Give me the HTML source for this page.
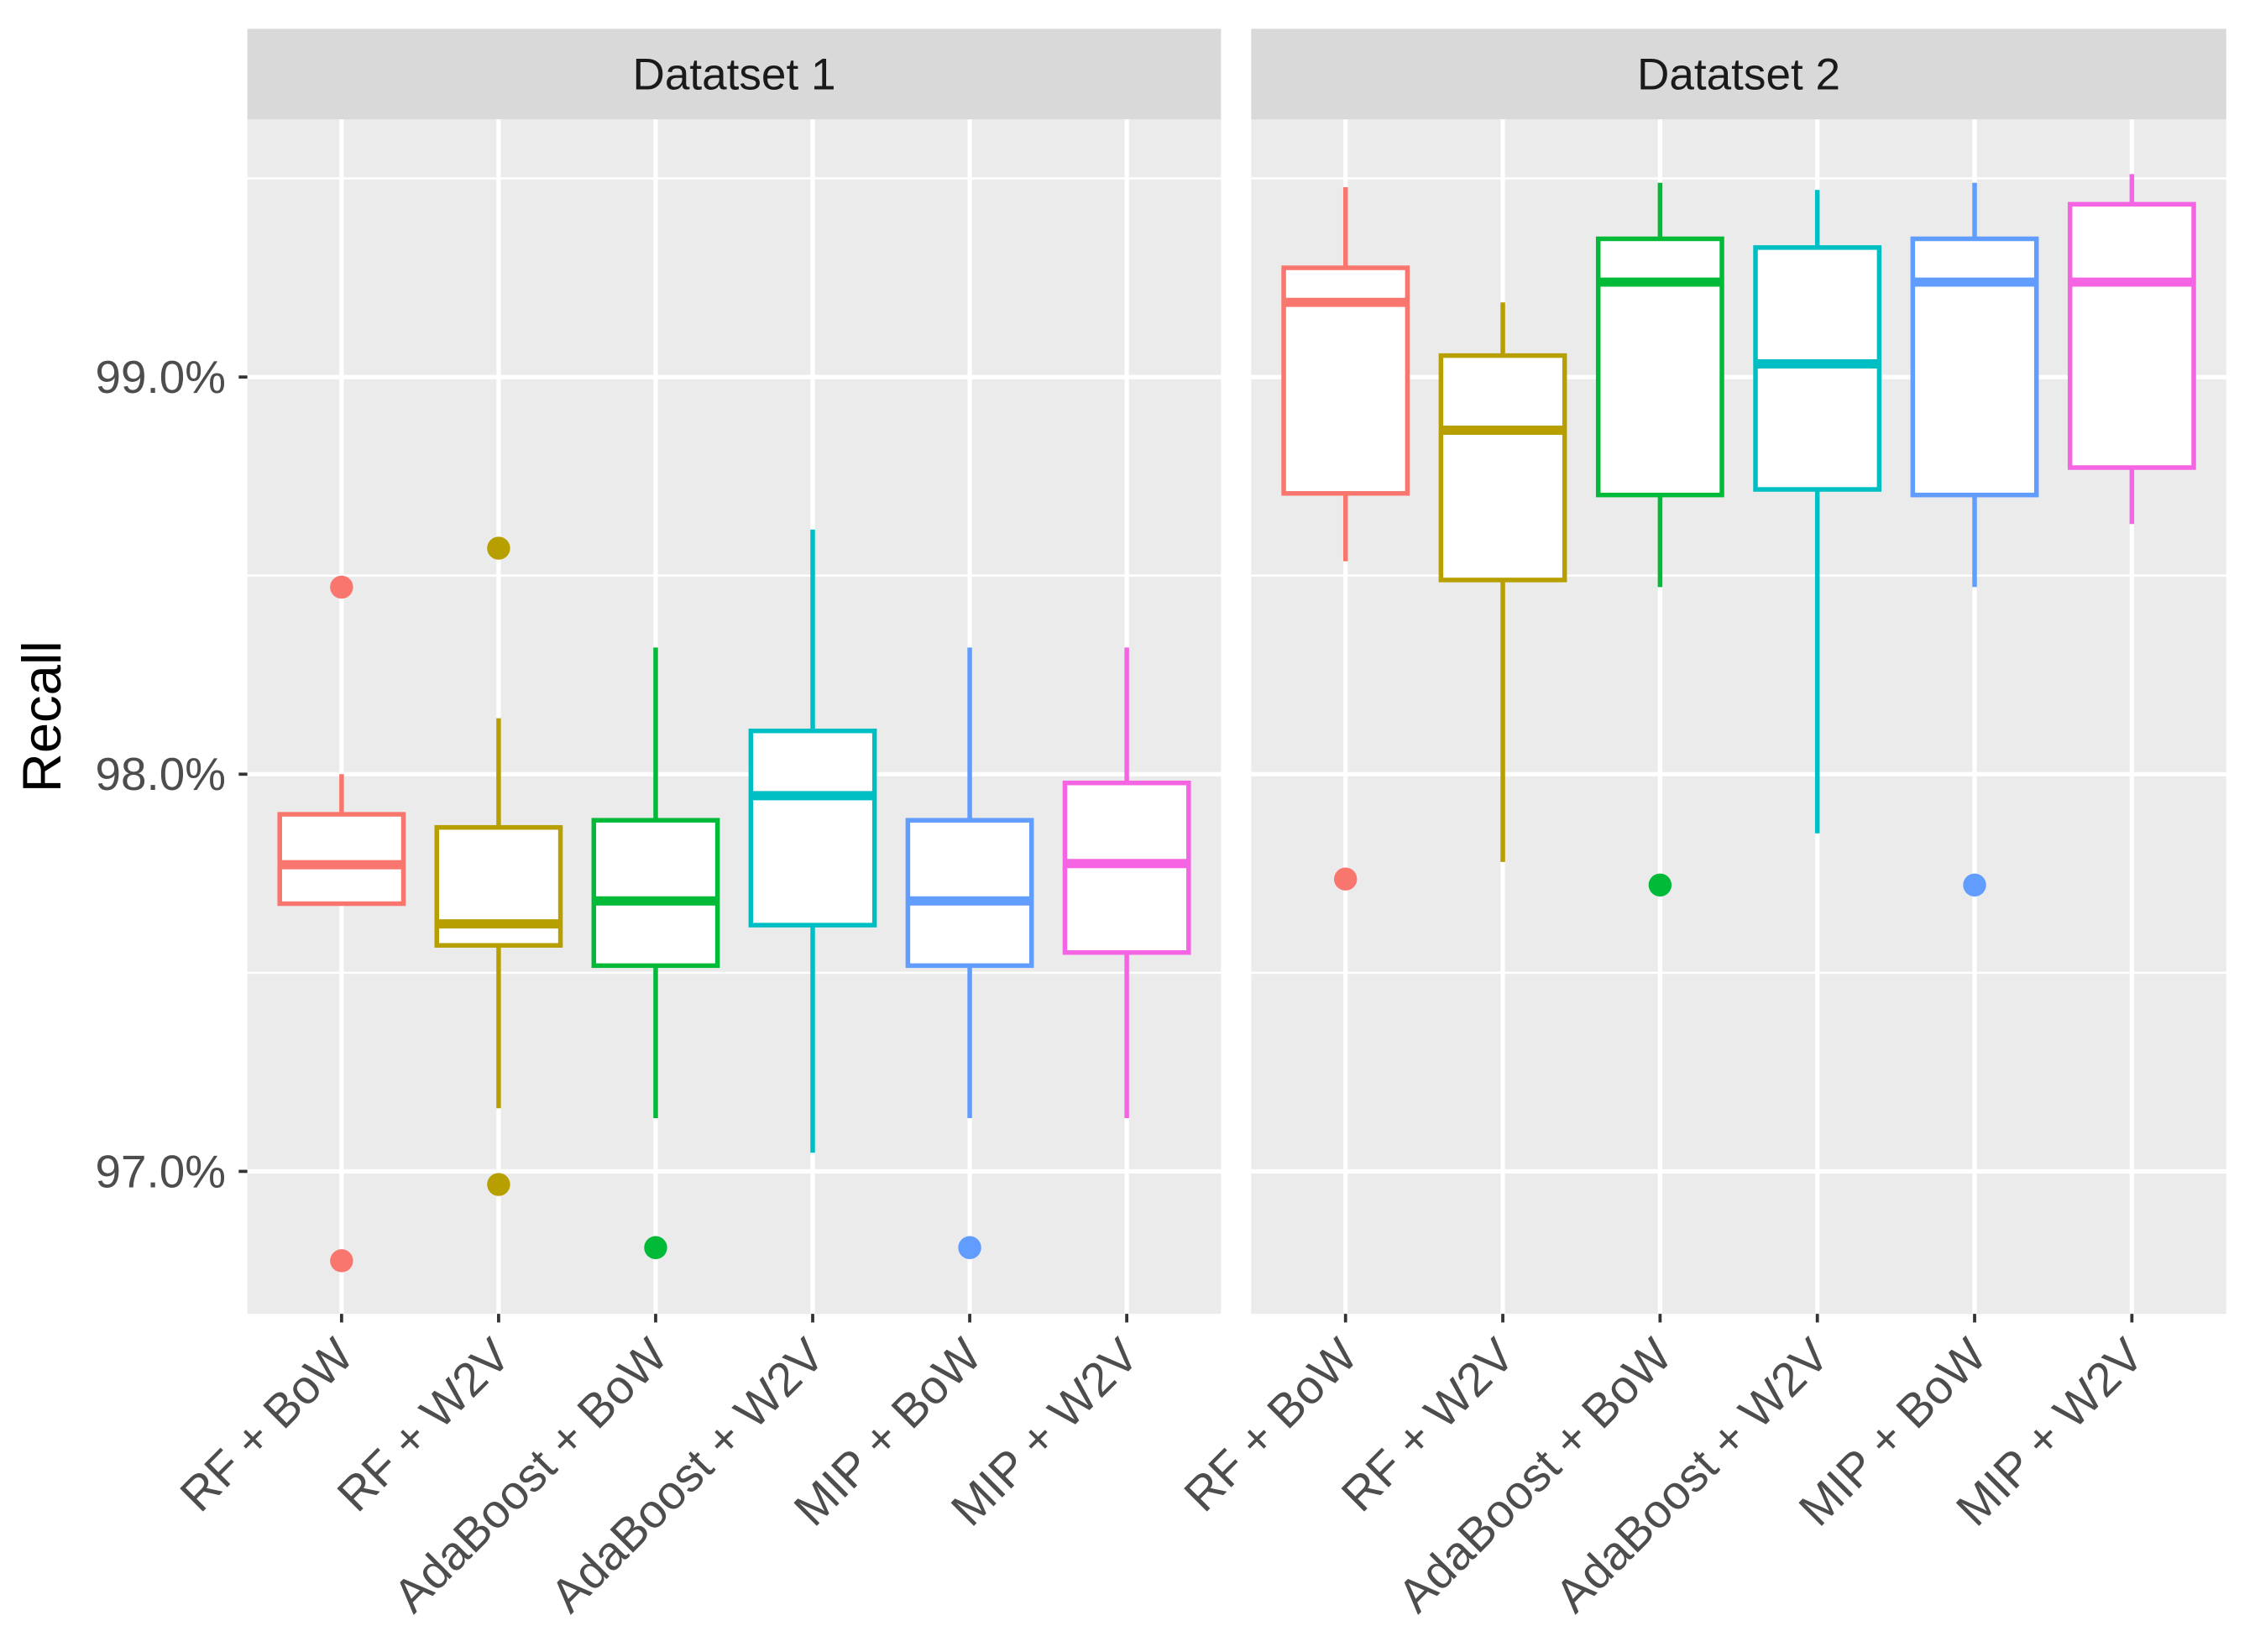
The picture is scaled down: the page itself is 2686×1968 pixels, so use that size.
<!DOCTYPE html>
<html><head><meta charset="utf-8"><style>html,body{margin:0;padding:0;background:#fff}svg{display:block}text{font-family:"Liberation Sans",sans-serif}</style></head>
<body>
<svg id="chart" width="2686" height="1968" viewBox="0 0 1568 1148" preserveAspectRatio="none" xmlns="http://www.w3.org/2000/svg"></svg>
<script>
const categories = ["RF + BoW","RF + W2V","AdaBoost + BoW","AdaBoost + W2V","MIP + BoW","MIP + W2V"];
const panels = ["Datatset 1","Datatset 2"];
const colors = ["#F8766D","#B79F00","#00BA38","#00BFC4","#619CFF","#F564E3"];
// [lowWhisker, q1, median, q3, highWhisker] in percent
const stats1 = [
 [97.674,97.674,97.772,97.899,98.000],
 [97.159,97.569,97.623,97.866,98.141],
 [97.134,97.518,97.681,97.884,98.319],
 [97.047,97.620,97.946,98.109,98.616],
 [97.134,97.518,97.681,97.884,98.319],
 [97.134,97.551,97.775,97.978,98.319]
];
const outliers1 = [[98.471,96.775],[98.569,96.967],[96.808],[],[96.808],[]];
const stats2 = [
 [98.536,98.707,99.188,99.275,99.478],
 [97.779,98.489,98.866,99.054,99.188],
 [98.471,98.703,99.239,99.348,99.489],
 [97.851,98.717,99.033,99.326,99.471],
 [98.471,98.703,99.239,99.348,99.489],
 [98.630,98.772,99.239,99.435,99.511]
];
const outliers2 = [[97.736],[],[97.721],[],[97.721],[]];
const yTicks = [97.0,98.0,99.0];
const yTickLabels = ["97.0%","98.0%","99.0%"];
const yMinor = [97.5,98.5,99.5];

const NS="http://www.w3.org/2000/svg";
const svg=document.getElementById('chart');
function el(tag,attrs,parent){const e=document.createElementNS(NS,tag);for(const k in attrs)e.setAttribute(k,attrs[k]);(parent||svg).appendChild(e);return e;}
const top0=83,bot0=913;
function y(v){return 262+(99-v)*276;}
const panelX=[[172,849],[870,1548]];
function x(p,i){const [a,b]=panelX[p];const step=(b-a)/6.2;return a+step*(0.6+i);}
const allStats=[stats1,stats2], allOut=[outliers1,outliers2];
for(let p=0;p<2;p++){
  const [a,b]=panelX[p];
  const g=el('g',{});
  
  
  const bg=el('rect',{x:a,y:top0,width:b-a,height:bot0-top0,fill:'#EBEBEB'},g);
  
  
  const st=el('rect',{x:a,y:20,width:b-a,height:63,fill:'#D9D9D9'},g);
  
  
  const stt=el('text',{x:(a+b)/2,y:62,'text-anchor':'middle','font-size':31,fill:'#1A1A1A'},g);
  stt.textContent=panels[p];
  
  
  yMinor.forEach(v=>{const l=el('line',{x1:a,x2:b,y1:y(v),y2:y(v),stroke:'#fff','stroke-width':1.5},g);
    });
  yTicks.forEach(v=>{const l=el('line',{x1:a,x2:b,y1:y(v),y2:y(v),stroke:'#fff','stroke-width':3},g);
    });
  categories.forEach((c,i)=>{const xx=x(p,i);
    const l=el('line',{x1:xx,x2:xx,y1:top0,y2:bot0,stroke:'#fff','stroke-width':3},g);
    
    const t=el('line',{x1:xx,x2:xx,y1:bot0,y2:bot0+6,stroke:'#333','stroke-width':2.2},g);
    
    const tx=el('text',{x:0,y:0,'text-anchor':'end','font-size':33,fill:'#4D4D4D',transform:`translate(${xx+10},${bot0+31}) rotate(-45)`},g);
    tx.textContent=c;
    
  });
  allStats[p].forEach((s,i)=>{const xx=x(p,i),col=colors[i],hw=43;
    const bx=el('g',{},g);
    
    
    el('line',{x1:xx,x2:xx,y1:y(s[4]),y2:y(s[3]),stroke:col,'stroke-width':3.2},bx);
    el('line',{x1:xx,x2:xx,y1:y(s[1]),y2:y(s[0]),stroke:col,'stroke-width':3.2},bx);
    el('rect',{x:xx-hw,y:y(s[3]),width:2*hw,height:y(s[1])-y(s[3]),fill:'#fff',stroke:col,'stroke-width':3.2},bx);
    el('line',{x1:xx-hw,x2:xx+hw,y1:y(s[2]),y2:y(s[2]),stroke:col,'stroke-width':6.4},bx);
    allOut[p][i].forEach(o=>{const c=el('circle',{cx:xx,cy:y(o),r:8,fill:col},bx);
      });
  });
}
yTicks.forEach((v,i)=>{
  const t=el('line',{x1:166,x2:172,y1:y(v),y2:y(v),stroke:'#333','stroke-width':2.2});
  
  const tx=el('text',{x:157,y:y(v)+11,'text-anchor':'end','font-size':32,fill:'#4D4D4D'});
  tx.textContent=yTickLabels[i];
  
});
const yt=el('text',{x:0,y:0,'text-anchor':'middle','font-size':38,fill:'#000',transform:'translate(42,498) rotate(-90)'});
yt.textContent='Recall';


</script>
</body></html>
